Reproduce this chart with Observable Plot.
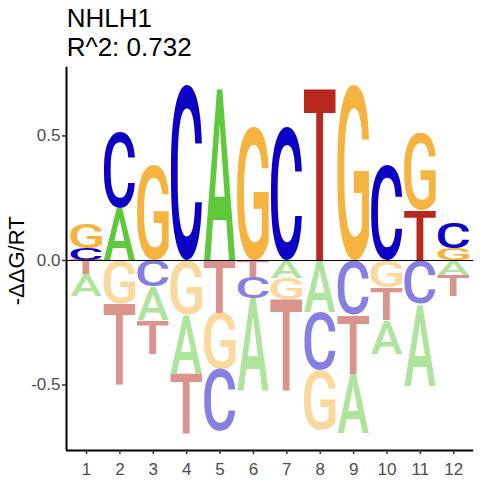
<!DOCTYPE html>
<html><head><meta charset="utf-8">
<script src="https://cdn.jsdelivr.net/npm/d3@7"></script>
<script src="https://cdn.jsdelivr.net/npm/@observablehq/plot@0.6"></script>
<style>
body{margin:0;background:#fff;font-family:"Liberation Sans",Arial,sans-serif}
#title{box-sizing:border-box;height:62px;padding:4px 0 0 66.7px;font-size:26px;line-height:29px;color:#000}
#title div{white-space:nowrap}
</style>
</head><body>
<div id="title"></div>
<div id="chart"></div>
<script>
// ---- data ----
const titleLines = ["NHLH1", "R^2: 0.732"];
const yLabel = "-ΔΔG/RT";
const positions = [1, 2, 3, 4, 5, 6, 7, 8, 9, 10, 11, 12];
const letters = ["A", "C", "G", "T"];
const letterColors = ["#5FC93C", "#0D00C4", "#F5B440", "#B8281E"];
const valA = [-0.088, 0.208, -0.133, -0.236, 0.692, -0.374, -0.073, -0.207, -0.240, -0.136, -0.329, -0.060];
const valC = [0.048, 0.302, -0.107, 0.700, -0.250, -0.087, 0.532, -0.234, -0.220, 0.381, -0.176, 0.102];
const valG = [0.100, -0.176, 0.381, -0.220, -0.227, 0.534, -0.084, -0.240, 0.700, -0.110, 0.310, 0.048];
const valT = [-0.056, -0.325, -0.136, -0.240, -0.211, -0.067, -0.370, 0.695, -0.236, -0.131, 0.200, -0.084];
const yTicks = [-0.5, 0, 0.5];
const xDomain = [0.4, 12.6];
const yDomain = [-0.763, 0.776];
const letterWidth = 0.95;

// ---- build stacked letter table ----
const series = {A: valA, C: valC, G: valG, T: valT};
const letterData = [];
positions.forEach((p, i) => {
  const items = letters.map(l => ({letter: l, value: series[l][i]}));
  const pos = items.filter(d => d.value > 0).sort((a, b) => a.value - b.value);
  const neg = items.filter(d => d.value <= 0).sort((a, b) => b.value - a.value);
  let acc = 0;
  for (const d of pos) { letterData.push({pos: p, letter: d.letter, value: d.value, lo: acc, hi: acc + d.value}); acc += d.value; }
  acc = 0;
  for (const d of neg) { letterData.push({pos: p, letter: d.letter, value: d.value, lo: acc + d.value, hi: acc}); acc += d.value; }
});

// ---- title ----
const t = document.getElementById("title");
for (const line of titleLines) { const d = document.createElement("div"); d.textContent = line; t.appendChild(d); }

// ---- letter renderer: stretch a glyph into each rect ----
const GLYPH_FONT = "Roboto";
const GLYPH_WEIGHT = 500;
function drawLetters(index, scales, values) {
  const g = d3.create("svg:g").attr("text-anchor", "start");
  const ctx = document.createElement("canvas").getContext("2d");
  ctx.font = `${GLYPH_WEIGHT} 100px ${GLYPH_FONT}`;
  ctx.textAlign = "left";
  ctx.textBaseline = "alphabetic";
  for (const i of index) {
    const ch = letterData[i].letter;
    const m = ctx.measureText(ch);
    const gw = m.actualBoundingBoxLeft + m.actualBoundingBoxRight;
    const gh = m.actualBoundingBoxAscent + m.actualBoundingBoxDescent;
    const x1 = Math.min(values.x1[i], values.x2[i]), x2 = Math.max(values.x1[i], values.x2[i]);
    const y1 = Math.min(values.y1[i], values.y2[i]), y2 = Math.max(values.y1[i], values.y2[i]);
    const sx = (x2 - x1) / gw, sy = (y2 - y1) / gh;
    g.append("text")
      .attr("transform", `translate(${x1},${y1}) scale(${sx},${sy}) translate(${m.actualBoundingBoxLeft},${m.actualBoundingBoxAscent})`)
      .attr("text-anchor", "start")
      .attr("font-family", GLYPH_FONT)
      .attr("font-weight", GLYPH_WEIGHT)
      .attr("font-size", 100)
      .attr("fill", values.fill[i])
      .attr("fill-opacity", values.fillOpacity ? values.fillOpacity[i] : 1)
      .text(ch);
  }
  return g.node();
}

const chart = Plot.plot({
  width: 480, height: 418,
  marginTop: 4.7, marginBottom: 30, marginLeft: 66, marginRight: 6.7,
  x: {domain: xDomain, axis: null},
  y: {domain: yDomain, axis: null},
  color: {domain: letters, range: letterColors},
  style: {fontFamily: "Liberation Sans, Arial, sans-serif", fontSize: "17px", background: "white", overflow: "visible"},
  marks: [
    Plot.rect(letterData, {
      x1: d => d.pos - letterWidth / 2, x2: d => d.pos + letterWidth / 2,
      y1: "lo", y2: "hi", fill: "letter",
      fillOpacity: d => d.value > 0 ? 1 : 0.5,
      render: drawLetters
    }),
    Plot.ruleY([0], {stroke: "#000", strokeWidth: 1}),
    Plot.ruleX([xDomain[0]], {y1: yDomain[0], y2: yDomain[1], stroke: "#000", strokeWidth: 2}),
    Plot.ruleY([yDomain[0]], {stroke: "#000", strokeWidth: 2}),
    Plot.axisX({ticks: positions, tickSize: 4, tickPadding: 8.4, label: null, stroke: "#333", strokeWidth: 1.5, fill: "#4D4D4D", tickFormat: d => String(d)}),
    Plot.axisY({ticks: yTicks, tickSize: 4, tickPadding: 2, label: null, stroke: "#333", strokeWidth: 1.5, fill: "#4D4D4D", tickFormat: d => d.toFixed(1)}),
    Plot.text([yLabel], {frameAnchor: "left", dx: -50, dy: 2, rotate: -90, fontSize: 22, textAnchor: "middle", lineAnchor: "middle", fill: "#000"})
  ]
});
document.getElementById("chart").appendChild(chart);
</script>
</body></html>
